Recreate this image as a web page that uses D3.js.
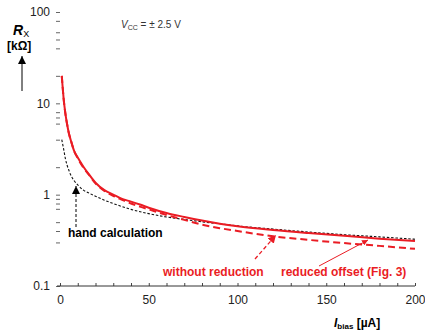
<!DOCTYPE html>
<html>
<head>
<meta charset="utf-8">
<script src="https://cdn.jsdelivr.net/npm/d3@7"></script>
<style>
  html, body { margin: 0; padding: 0; background: #fff; }
  svg { display: block; font-family: "Liberation Sans", Arial, sans-serif; }
</style>
</head>
<body>
<svg id="chart" width="425" height="334"></svg>
<script>
// ---- data ----
const biasReduced = [1, 1.5, 2, 3, 4, 5, 6, 8, 10, 13, 16, 20, 25, 30, 35, 40, 45, 50, 60, 70, 80, 90, 100, 120, 140, 160, 180, 200];
const rxReduced   = [20, 15, 11.5, 7.8, 5.9, 4.7, 4.0, 3.0, 2.55, 2.05, 1.7, 1.35, 1.12, 1.0, 0.9, 0.84, 0.78, 0.72, 0.63, 0.57, 0.52, 0.48, 0.45, 0.41, 0.38, 0.355, 0.33, 0.31];

const biasWithout = [1, 1.5, 2, 3, 4, 5, 6, 8, 10, 13, 16, 20, 25, 30, 35, 40, 45, 50, 60, 70, 80, 90, 100, 120, 140, 160, 180, 200];
const rxWithout   = [20, 15, 11.5, 7.8, 5.9, 4.7, 4.0, 3.0, 2.5, 2.0, 1.68, 1.33, 1.1, 0.97, 0.88, 0.8, 0.74, 0.69, 0.6, 0.53, 0.47, 0.43, 0.40, 0.35, 0.32, 0.295, 0.275, 0.255];

const biasHand = [1, 2, 3, 4, 5, 6, 8, 10, 13, 16, 20, 25, 30, 40, 50, 60, 70, 80, 90, 100, 120, 140, 160, 180, 200];
const rxHand   = [4.0, 3.2, 2.5, 2.1, 1.85, 1.65, 1.42, 1.28, 1.13, 1.05, 0.96, 0.87, 0.8, 0.69, 0.62, 0.57, 0.535, 0.505, 0.48, 0.455, 0.42, 0.39, 0.365, 0.345, 0.325];

const yMajorTicks = [100, 10, 1, 0.1];
const yMajorLabels = ["100", "10", "1", "0.1"];
const yMinorTicks = [80, 60, 50, 40, 20, 8, 7, 6, 4, 2, 0.9, 0.8, 0.7, 0.5, 0.4, 0.3];
const xTicks = [0, 10, 20, 30, 40, 50, 60, 70, 80, 90, 100, 110, 120, 130, 140, 150, 160, 170, 180, 190, 200];
const xTickLabels = ["0", "50", "100", "150", "200"];

// ---- drawing ----
const RED = "#ea1c24";
const svg = d3.select("#chart");
const x = d3.scaleLinear().domain([0, 200]).range([60, 415]);
const y = d3.scaleLog().domain([0.1, 100]).range([286, 12]);

const defs = svg.append("defs");
function marker(id, color, size) {
  defs.append("marker").attr("id", id).attr("viewBox", "0 0 10 10")
    .attr("refX", 10).attr("refY", 5).attr("markerWidth", size).attr("markerHeight", size)
    .attr("markerUnits", "userSpaceOnUse").attr("orient", "auto")
    .append("path").attr("d", "M0,0 L10,5 L0,10 z").attr("fill", color);
}
marker("arrBlack", "#000", 8);
marker("arrRed", RED, 8);
marker("arrRedSmall", RED, 6);

// y axis (ticks only, no domain line)
const yAll = yMajorTicks.concat(yMinorTicks);
const yAxis = d3.axisLeft(y).tickValues(yAll).tickSize(4).tickPadding(6)
  .tickFormat(d => { const i = yMajorTicks.indexOf(d); return i >= 0 ? yMajorLabels[i] : ""; });
const gy = svg.append("g").attr("transform", "translate(60,0)").call(yAxis);
gy.select(".domain").remove();
gy.selectAll(".tick line").attr("stroke", "#666");
gy.selectAll(".tick text").attr("font-size", 12).attr("fill", "#222")
  .attr("font-family", "Liberation Sans, Arial, sans-serif");

// x axis
const xAxis = d3.axisBottom(x).tickValues(xTicks).tickSize(-3).tickSizeOuter(0).tickPadding(9)
  .tickFormat(d => xTickLabels.indexOf(String(d)) >= 0 ? String(d) : "");
const gx = svg.append("g").attr("transform", "translate(0,286)").call(xAxis);
gx.select(".domain").remove();
gx.selectAll(".tick line").attr("stroke", "#444");
gx.selectAll(".tick text").attr("font-size", 12).attr("fill", "#222")
  .attr("font-family", "Liberation Sans, Arial, sans-serif");
svg.append("line").attr("x1", x(0) - 3).attr("x2", x(200)).attr("y1", 286).attr("y2", 286)
  .attr("stroke", "#333").attr("stroke-width", 1);

// curves
const mk = (xs, ys) => xs.map((v, i) => [v, ys[i]]);
const line = d3.line().x(d => x(d[0])).y(d => y(d[1])).curve(d3.curveMonotoneX);

svg.append("path").datum(mk(biasHand, rxHand)).attr("d", line)
  .attr("fill", "none").attr("stroke", "#111").attr("stroke-width", 1.1).attr("stroke-dasharray", "2.5,1.8");
svg.append("path").datum(mk(biasWithout, rxWithout)).attr("d", line)
  .attr("fill", "none").attr("stroke", RED).attr("stroke-width", 2).attr("stroke-dasharray", "7,4");
svg.append("path").datum(mk(biasReduced, rxReduced)).attr("d", line)
  .attr("fill", "none").attr("stroke", RED).attr("stroke-width", 2);

// annotations
svg.append("line").attr("x1", 76).attr("y1", 227).attr("x2", 76).attr("y2", 186)
  .attr("stroke", "#000").attr("stroke-width", 1).attr("stroke-dasharray", "3,2")
  .attr("marker-end", "url(#arrBlack)");
svg.append("text").attr("x", 68).attr("y", 237).attr("font-size", 12).attr("font-weight", "bold")
  .attr("fill", "#000").text("hand calculation");

svg.append("line").attr("x1", 255).attr("y1", 259).attr("x2", 276).attr("y2", 235)
  .attr("stroke", RED).attr("stroke-width", 1.3).attr("stroke-dasharray", "4,2.5")
  .attr("marker-end", "url(#arrRed)");
svg.append("text").attr("x", 163).attr("y", 276).attr("font-size", 12).attr("font-weight", "bold")
  .attr("fill", RED).text("without reduction");

svg.append("line").attr("x1", 319).attr("y1", 266).attr("x2", 368).attr("y2", 240)
  .attr("stroke", RED).attr("stroke-width", 1)
  .attr("marker-end", "url(#arrRedSmall)");
svg.append("text").attr("x", 281).attr("y", 276).attr("font-size", 12).attr("font-weight", "bold")
  .attr("fill", RED).text("reduced offset (Fig. 3)");

// V_CC label
const vt = svg.append("text").attr("x", 121).attr("y", 28).attr("font-size", 10).attr("fill", "#333");
vt.append("tspan").attr("font-style", "italic").text("V");
vt.append("tspan").attr("font-size", 7).attr("dy", 2).text("CC");
vt.append("tspan").attr("dy", -2).text(" = ± 2.5 V");

// y label
const yl = svg.append("text").attr("x", 13).attr("y", 35).attr("font-size", 14).attr("font-weight", "bold").attr("fill", "#000");
yl.append("tspan").attr("font-style", "italic").text("R");
yl.append("tspan").attr("font-size", 9).attr("font-weight", "normal").attr("dy", 2).text("X");
svg.append("text").attr("x", 7).attr("y", 50).attr("font-size", 12).attr("font-weight", "bold")
  .attr("fill", "#000").text("[kΩ]");
svg.append("line").attr("x1", 22).attr("y1", 91).attr("x2", 22).attr("y2", 56)
  .attr("stroke", "#000").attr("stroke-width", 1).attr("marker-end", "url(#arrBlack)");

// x label
const xl = svg.append("text").attr("x", 334).attr("y", 327).attr("font-size", 12).attr("font-weight", "bold").attr("fill", "#000");
xl.append("tspan").attr("font-style", "italic").text("I");
xl.append("tspan").attr("font-size", 8).attr("dy", 2).text("bias");
xl.append("tspan").attr("dy", -2).text(" [µA]");
</script>
</body>
</html>
